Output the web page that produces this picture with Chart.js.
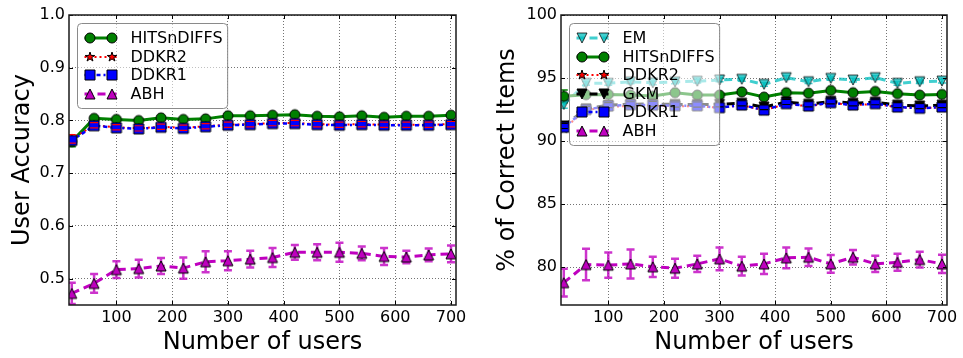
<!DOCTYPE html>
<html><head><meta charset="utf-8">
<script src="https://cdn.jsdelivr.net/npm/chart.js@4/dist/chart.umd.min.js"></script>
<style>
html,body{margin:0;padding:0;background:#fff;width:963px;height:358px;overflow:hidden}
canvas{position:absolute;top:0}
#c1{left:0}
#c2{left:481px}
</style></head><body>
<canvas id="c1" width="481" height="358"></canvas>
<canvas id="c2" width="482" height="358"></canvas>
<script>
// ---------- data ----------
const users = [20,60,100,140,180,220,260,300,340,380,420,460,500,540,580,620,660,700];
const xTicks = [100,200,300,400,500,600,700];
const accTicks = [0.5,0.6,0.7,0.8,0.9,1.0];
const pctTicks = [80,85,90,95,100];

// left panel: user accuracy
const accHITS    = [0.760,0.804,0.802,0.800,0.805,0.802,0.803,0.809,0.809,0.810,0.811,0.808,0.807,0.809,0.806,0.808,0.808,0.810];
const accHITSErr = [0.010,0.004,0.003,0.003,0.003,0.003,0.003,0.003,0.003,0.003,0.003,0.003,0.003,0.003,0.003,0.003,0.003,0.003];
const accDDKR2   = [0.765,0.791,0.787,0.785,0.788,0.786,0.789,0.792,0.793,0.795,0.795,0.793,0.792,0.793,0.792,0.792,0.792,0.793];
const accDDKR2Err= [0.008,0.005,0.005,0.005,0.005,0.005,0.005,0.005,0.005,0.005,0.005,0.005,0.005,0.005,0.005,0.005,0.005,0.005];
const accDDKR1   = [0.762,0.790,0.786,0.784,0.787,0.785,0.788,0.791,0.792,0.794,0.794,0.792,0.791,0.792,0.791,0.791,0.791,0.792];
const accABH     = [0.472,0.491,0.517,0.519,0.524,0.520,0.532,0.534,0.537,0.540,0.550,0.550,0.550,0.548,0.542,0.541,0.545,0.547];
const accABHErr  = [0.020,0.018,0.016,0.017,0.015,0.020,0.020,0.018,0.016,0.018,0.014,0.015,0.018,0.013,0.016,0.012,0.012,0.016];

// right panel: % of correct items
const pctEM      = [92.90,94.58,94.58,94.70,94.62,94.70,94.75,94.85,94.90,94.50,95.03,94.71,94.97,94.84,95.03,94.58,94.71,94.76];
const pctEMErr   = [0.30,0.15,0.15,0.15,0.15,0.15,0.15,0.15,0.15,0.15,0.15,0.15,0.15,0.15,0.15,0.15,0.15,0.15];
const pctHITS    = [93.55,93.68,93.70,93.65,93.57,93.84,93.65,93.65,93.90,93.49,93.84,93.80,94.02,93.84,93.94,93.76,93.65,93.70];
const pctHITSErr = [0.50,0.15,0.15,0.15,0.15,0.15,0.15,0.15,0.15,0.15,0.15,0.15,0.15,0.15,0.15,0.15,0.15,0.15];
const pctDDKR2   = [91.00,92.45,92.70,92.80,92.82,92.76,92.76,92.65,92.84,92.44,92.95,92.76,93.03,92.84,92.95,92.68,92.60,92.68];
const pctGKM     = [91.20,92.55,92.85,92.92,92.95,92.90,92.90,92.92,93.00,92.70,93.10,92.92,93.15,93.00,93.08,92.85,92.78,92.85];
const pctGKMErr  = [0.20,0.20,0.20,0.20,0.20,0.20,0.20,0.20,0.20,0.20,0.20,0.20,0.20,0.20,0.20,0.20,0.20,0.20];
const pctDDKR1   = [91.10,92.50,92.78,92.88,92.85,92.80,92.80,92.65,92.86,92.46,92.97,92.78,93.05,92.86,92.97,92.70,92.60,92.70];
const pctABH     = [78.77,80.21,80.16,80.26,80.03,79.92,80.26,80.66,80.08,80.26,80.74,80.79,80.26,80.79,80.26,80.39,80.60,80.26];
const pctABHErr  = [1.10,1.25,1.00,1.15,0.80,0.75,0.65,0.90,0.75,0.80,0.83,0.70,0.70,0.58,0.65,0.67,0.63,0.72];

// ---------- styling helpers ----------
Chart.defaults.font.family = "'DejaVu Sans'";
Chart.defaults.color = '#000';

function mk(shape, size, fill, edge, alpha){
  const d = size + 4, c = document.createElement('canvas');
  c.width = d; c.height = d;
  const g = c.getContext('2d'); g.globalAlpha = alpha || 1;
  const cx = d/2, cy = d/2, r = size/2;
  g.beginPath();
  if (shape === 'circle') g.arc(cx, cy, r, 0, Math.PI*2);
  else if (shape === 'square') g.rect(cx-r, cy-r, size, size);
  else if (shape === 'tri-up'){ g.moveTo(cx, cy-r); g.lineTo(cx+r, cy+r); g.lineTo(cx-r, cy+r); g.closePath(); }
  else if (shape === 'tri-down'){ g.moveTo(cx, cy+r); g.lineTo(cx+r, cy-r); g.lineTo(cx-r, cy-r); g.closePath(); }
  else if (shape === 'star'){
    for (let i = 0; i < 10; i++){
      const rr = i % 2 ? r*0.382 : r, a = -Math.PI/2 + i*Math.PI/5;
      const px = cx + rr*Math.cos(a), py = cy + rr*Math.sin(a);
      if (i) g.lineTo(px, py); else g.moveTo(px, py);
    }
    g.closePath();
  }
  g.fillStyle = fill; g.fill();
  g.lineWidth = 1; g.strokeStyle = edge; g.stroke();
  return c;
}
const pts = (arr) => users.map((x, i) => ({x: x, y: arr[i]}));

function line(label, arr, color, width, dash, marker, order, extra){
  return Object.assign({
    label: label, data: pts(arr), borderColor: color, backgroundColor: color,
    borderWidth: width, borderDash: dash, tension: 0, fill: false,
    pointStyle: marker, pointRadius: 5, pointBorderWidth: 0, order: order, clip: 0
  }, extra || {});
}

function drawErr(chart, top){
  const {ctx, chartArea: a, scales: {x, y}} = chart;
  ctx.save();
  ctx.beginPath(); ctx.rect(a.left, a.top, a.right - a.left, a.bottom - a.top); ctx.clip();
  chart.data.datasets.forEach(ds => {
    if (!ds.errors || (!!ds.errTop) !== top) return;
    ctx.strokeStyle = ds.errColor; ctx.lineWidth = ds.errWidth || 1.5; ctx.setLineDash([]);
    ds.data.forEach((p, i) => {
      const e = ds.errors[i], px = x.getPixelForValue(p.x);
      const y1 = y.getPixelForValue(p.y - e), y2 = y.getPixelForValue(p.y + e);
      ctx.beginPath();
      if (!ds.capsOnly){ ctx.moveTo(px, y1); ctx.lineTo(px, y2); }
      ctx.moveTo(px-4, y1); ctx.lineTo(px+4, y1);
      ctx.moveTo(px-4, y2); ctx.lineTo(px+4, y2);
      ctx.stroke();
    });
  });
  ctx.restore();
}

function drawFrame(chart, yt){
  const {ctx, chartArea: a, scales: {x, y}} = chart;
  ctx.save();
  ctx.strokeStyle = '#000'; ctx.lineWidth = 1; ctx.setLineDash([]);
  ctx.beginPath();
  xTicks.forEach(v => { const p = Math.round(x.getPixelForValue(v)) + 0.5;
    ctx.moveTo(p, a.bottom); ctx.lineTo(p, a.bottom - 4); ctx.moveTo(p, a.top); ctx.lineTo(p, a.top + 4); });
  yt.forEach(v => { const p = Math.round(y.getPixelForValue(v)) + 0.5;
    ctx.moveTo(a.left, p); ctx.lineTo(a.left + 4, p); ctx.moveTo(a.right, p); ctx.lineTo(a.right - 4, p); });
  ctx.stroke();
  ctx.lineWidth = 1.5; ctx.strokeStyle = '#1a1a1a';
  ctx.strokeRect(a.left, a.top, a.right - a.left, a.bottom - a.top);
  ctx.restore();
}

function drawLegend(chart){
  const {ctx, chartArea: a} = chart, dss = chart.data.datasets;
  ctx.save();
  ctx.font = "16px 'DejaVu Sans'";
  const tw = Math.max(...dss.map(d => ctx.measureText(d.label).width));
  const bx = a.left + 8.5, by = a.top + 8.5, w = 53 + tw + 5, h = 14.5 + (dss.length - 1)*18.5 + 15;
  ctx.beginPath(); ctx.roundRect(bx, by, w, h, 4);
  ctx.fillStyle = 'rgba(255,255,255,0.55)'; ctx.fill();
  ctx.strokeStyle = '#8a8a8a'; ctx.lineWidth = 1; ctx.stroke();
  dss.forEach((d, i) => {
    const cy = Math.round(by + 14.5 + i*18.5);
    ctx.strokeStyle = d.borderColor; ctx.lineWidth = d.borderWidth; ctx.setLineDash(d.borderDash || []);
    ctx.beginPath(); ctx.moveTo(bx + 7, cy); ctx.lineTo(bx + 39, cy); ctx.stroke();
    ctx.setLineDash([]);
    const m = d.pointStyle;
    ctx.drawImage(m, Math.round(bx + 12 - m.width/2), cy - m.height/2);
    ctx.drawImage(m, Math.round(bx + 34 - m.width/2), cy - m.height/2);
    ctx.fillStyle = '#000'; ctx.textBaseline = 'middle'; ctx.textAlign = 'left';
    ctx.fillText(d.label, bx + 53, cy + 1);
  });
  ctx.restore();
}

function deco(yt){
  return {
    id: 'deco',
    beforeDatasetsDraw(chart){ drawErr(chart, false); },
    afterDatasetsDraw(chart){ drawErr(chart, true); drawFrame(chart, yt); drawLegend(chart); }
  };
}

function opts(yMin, yMax, yt, yTitle, yWidth, yTitlePad, padRight, fmt){
  return {
    responsive: false, animation: false, events: [],
    layout: {padding: {left: 0, right: padRight, top: 15, bottom: 0}},
    plugins: {legend: {display: false}, tooltip: {enabled: false}},
    scales: {
      x: {
        type: 'linear', min: 15, max: 709,
        afterBuildTicks: s => { s.ticks = xTicks.map(v => ({value: v})); },
        afterFit: s => { s.height = 53; },
        grid: {color: 'rgba(0,0,0,0.55)', lineWidth: 1, drawTicks: false},
        border: {display: false, dash: [1, 2]},
        ticks: {font: {size: 16}, color: '#000', padding: 3, maxRotation: 0, autoSkip: false, callback: v => String(v)},
        title: {display: true, text: 'Number of users', font: {size: 24}, color: '#000', padding: {top: 0, bottom: 1}}
      },
      y: {
        type: 'linear', min: yMin, max: yMax,
        afterBuildTicks: s => { s.ticks = yt.map(v => ({value: v})); },
        afterFit: s => { s.width = yWidth; },
        grid: {color: 'rgba(0,0,0,0.55)', lineWidth: 1, drawTicks: false},
        border: {display: false, dash: [1, 2]},
        ticks: {font: {size: 16}, color: '#000', padding: 4, autoSkip: false, callback: fmt},
        title: {display: true, text: yTitle, font: {size: 24}, color: '#000', padding: {top: yTitlePad, bottom: 0}}
      }
    }
  };
}

// ---------- left chart ----------
new Chart(document.getElementById('c1'), {
  type: 'line',
  data: {datasets: [
    line('HITSnDIFFS', accHITS, '#008000', 3, [], mk('circle', 10, '#008000', '#000'), 2,
         {errors: accHITSErr, errColor: '#008000'}),
    line('DDKR2', accDDKR2, '#ff0000', 2, [2, 3], mk('star', 10, '#ff0000', '#000'), 1,
         {errors: accDDKR2Err, errColor: '#ff0000', errTop: true, capsOnly: true, errWidth: 1.2}),
    line('DDKR1', accDDKR1, '#0000ff', 2.5, [4, 3, 2, 3], mk('square', 10, '#0000ff', '#000'), 0),
    line('ABH', accABH, '#bf00bf', 3, [8, 5], mk('tri-up', 10, '#bf00bf', '#000'), 3,
         {errors: accABHErr, errColor: 'rgba(191,0,191,0.8)', errWidth: 2.5})
  ]},
  options: opts(0.45, 1.0, accTicks, 'User Accuracy', 69, 8, 25, v => v.toFixed(1)),
  plugins: [deco(accTicks)]
});

// ---------- right chart ----------
new Chart(document.getElementById('c2'), {
  type: 'line',
  data: {datasets: [
    line('EM', pctEM, 'rgba(0,191,191,0.75)', 3, [8, 5], mk('tri-down', 10, '#00bfbf', '#000', 0.75), 4,
         {errors: pctEMErr, errColor: 'rgba(0,191,191,0.75)'}),
    line('HITSnDIFFS', pctHITS, '#008000', 3, [], mk('circle', 10, '#008000', '#000'), 3,
         {errors: pctHITSErr, errColor: '#008000'}),
    line('DDKR2', pctDDKR2, '#ff0000', 2, [2, 3], mk('star', 10, '#ff0000', '#000'), 2),
    line('GKM', pctGKM, '#000000', 3, [8, 5], mk('tri-down', 10, '#000000', '#000'), 1,
         {errors: pctGKMErr, errColor: '#000', errTop: true, capsOnly: true, errWidth: 1.2}),
    line('DDKR1', pctDDKR1, '#0000ff', 2.5, [4, 3, 2, 3], mk('square', 10, '#0000ff', '#000'), 0),
    line('ABH', pctABH, '#bf00bf', 3, [8, 5], mk('tri-up', 10, '#bf00bf', '#000'), 5,
         {errors: pctABHErr, errColor: 'rgba(191,0,191,0.8)', errWidth: 2.5})
  ]},
  options: opts(77, 100, pctTicks, '% of Correct Items', 80, 12, 16, v => String(v)),
  plugins: [deco(pctTicks)]
});
</script>
</body></html>
